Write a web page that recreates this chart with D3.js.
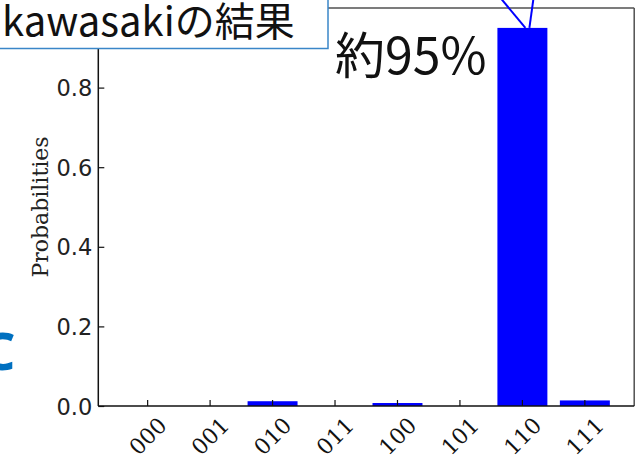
<!DOCTYPE html>
<html>
<head>
<meta charset="utf-8">
<script src="https://cdn.jsdelivr.net/npm/d3@7"></script>
<style>
  html, body { margin: 0; padding: 0; background: #ffffff; }
  svg { display: block; }
</style>
</head>
<body>
<svg id="chart" width="641" height="462"></svg>
<script>
// Measurement outcomes (3-qubit basis states) and their probabilities
const states = ["000", "001", "010", "011", "100", "101", "110", "111"];
const probabilities = [0, 0, 0.012, 0, 0.0075, 0, 0.95, 0.014];
const yTickValues = [0, 0.2, 0.4, 0.6, 0.8];
const resultTitle = "kawasakiの結果";
const highlightState = "110";

const svg = d3.select("#chart");

// Plot area
const plot = { left: 98.3, right: 634.2, top: 8, bottom: 406 };

const x = d3.scaleBand()
  .domain(states)
  .range([plot.left, plot.right])
  .paddingInner(0.2)
  .paddingOuter(0.39);

const y = d3.scaleLinear()
  .domain([0, 1])
  .range([plot.bottom, plot.top]);

// Bars
svg.append("g")
  .selectAll("rect")
  .data(states.map((s, i) => ({ state: s, p: probabilities[i] })))
  .join("rect")
  .attr("x", d => x(d.state))
  .attr("width", x.bandwidth())
  .attr("y", d => y(d.p))
  .attr("height", d => y(0) - y(d.p))
  .attr("fill", "#0000ff");

// Frame: grey top/right, dark left/bottom
svg.append("line")
  .attr("x1", plot.left).attr("x2", plot.right)
  .attr("y1", plot.top).attr("y2", plot.top)
  .attr("stroke", "#505050").attr("stroke-width", 1.5);
svg.append("line")
  .attr("x1", plot.right).attr("x2", plot.right)
  .attr("y1", plot.top).attr("y2", plot.bottom)
  .attr("stroke", "#505050").attr("stroke-width", 1.5);

// Y axis with inward ticks
const yAxis = d3.axisRight(y)
  .tickValues(yTickValues)
  .tickSize(6)
  .tickFormat(d3.format(".1f"));
const gy = svg.append("g")
  .attr("transform", `translate(${plot.left},0)`)
  .call(yAxis);
gy.select(".domain").attr("stroke", "#111").attr("stroke-width", 1.5)
  .attr("d", `M0,${plot.top}V${plot.bottom}`);
gy.selectAll(".tick line").attr("stroke", "#111").attr("stroke-width", 1.2);
gy.selectAll(".tick text")
  .attr("x", -6)
  .attr("text-anchor", "end")
  .attr("dy", "0.36em")
  .attr("fill", "#222")
  .style("font-family", "'DejaVu Sans', sans-serif")
  .style("font-size", "22.5px");

// X axis with inward ticks and rotated labels
const xAxis = d3.axisTop(x).tickSize(6).tickSizeOuter(0);
const gx = svg.append("g")
  .attr("transform", `translate(0,${plot.bottom})`)
  .call(xAxis);
gx.select(".domain").attr("stroke", "#111").attr("stroke-width", 1.5)
  .attr("d", `M${plot.left},0H${plot.right}`);
gx.selectAll(".tick line").attr("stroke", "#111").attr("stroke-width", 1.2);
gx.selectAll(".tick text")
  .attr("y", 0)
  .attr("dy", "0.36em")
  .attr("text-anchor", "middle")
  .attr("transform", "translate(0,30) rotate(-45)")
  .attr("fill", "#111")
  .style("font-family", "'DejaVu Serif', serif")
  .style("font-size", "22px");

// Y axis title
svg.append("text")
  .attr("transform", `translate(48,${(plot.top + plot.bottom) / 2}) rotate(-90)`)
  .attr("text-anchor", "middle")
  .attr("fill", "#222")
  .style("font-family", "'DejaVu Serif', serif")
  .style("font-size", "22px")
  .text("Probabilities");

// Pointer lines leading up from the highlighted bar
const hiIndex = states.indexOf(highlightState);
const hiTopX = x(highlightState) + x.bandwidth() / 2;
const hiTopY = y(probabilities[hiIndex]);
svg.append("line")
  .attr("x1", hiTopX + 3).attr("y1", hiTopY)
  .attr("x2", hiTopX - 21).attr("y2", -1)
  .attr("stroke", "#0000ff").attr("stroke-width", 2);
svg.append("line")
  .attr("x1", hiTopX + 7).attr("y1", hiTopY)
  .attr("x2", hiTopX + 11).attr("y2", -1)
  .attr("stroke", "#0000ff").attr("stroke-width", 2);

// Percentage callout next to the highlighted bar
svg.append("text")
  .attr("x", 335)
  .attr("y", 74)
  .attr("fill", "#111")
  .style("font-family", "'Noto Sans CJK JP', sans-serif")
  .style("font-size", "50px")
  .text("約" + d3.format(".0f")(probabilities[hiIndex] * 100) + "%");

// Title box in the upper left
svg.append("rect")
  .attr("x", -3).attr("y", -3)
  .attr("width", 331).attr("height", 51.5)
  .attr("fill", "#ffffff")
  .attr("stroke", "#3a86c8")
  .attr("stroke-width", 1.5);
svg.append("text")
  .attr("x", 2)
  .attr("y", 36)
  .attr("fill", "#111")
  .style("font-family", "'Noto Sans CJK JP', sans-serif")
  .style("font-size", "40px")
  .text(resultTitle);

// Partly visible heading glyph at the left edge
svg.append("text")
  .attr("x", -18)
  .attr("y", 370)
  .attr("fill", "#0070c0")
  .style("font-family", "'Noto Sans', sans-serif")
  .style("font-weight", "bold")
  .style("font-size", "52px")
  .text("C");
</script>
</body>
</html>
